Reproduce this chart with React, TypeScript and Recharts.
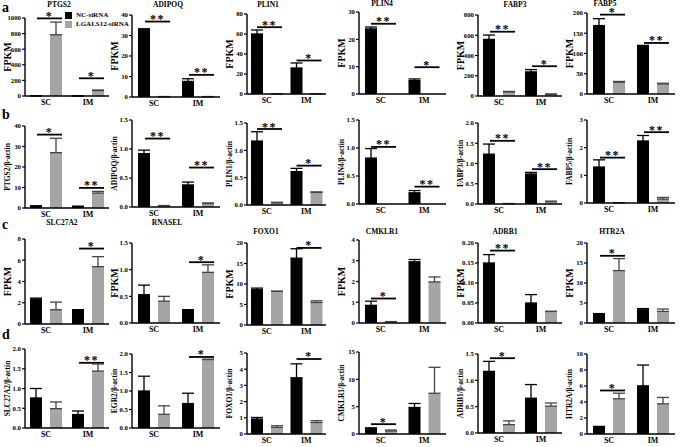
import React from 'react'
import { BarChart, Bar, XAxis, YAxis, ErrorBar, Legend } from 'recharts'

const FONT = '"Liberation Serif", "Times New Roman", serif'
const CATEGORIES = ['SC', 'IM']
const SERIES = ['NC-siRNA', 'LGALS12-siRNA']

// values are [SC, IM]
// row a - RNA-seq FPKM
const GENES_A = ['PTGS2', 'ADIPOQ', 'PLIN1', 'PLIN4', 'FABP3', 'FABP5']
const NC_A = [[2, 1], [32.8, 7.6], [60, 26], [23.8, 4.9], [559, 238], [169, 117]]
const NC_ERR_A = [[0, 0], [0.5, 1.3], [4, 5], [0.7, 0.6], [43, 23], [17, 3]]
const SI_A = [[785, 69], [0.2, 0.2], [0.3, 0.3], [0, 0], [40, 17], [29, 25]]
const SI_ERR_A = [[163, 8], [0, 0], [0, 0], [0, 0], [5, 3], [2, 1.5]]
const TICKS_A = [
  [0, 200, 400, 600, 800, 1000],
  [0, 10, 20, 30, 40],
  [0, 20, 40, 60, 80],
  [0, 10, 20, 30],
  [0, 200, 400, 600, 800],
  [0, 50, 100, 150, 200],
]
// significance bars: [SC level, IM level] and their marks
const SIG_A = [[995, 227], [36.8, 10.8], [66.8, 33.5], [25.7, 9.8], [635, 294], [196, 126]]
const SIG_TXT_A = [['*', '*'], ['**', '**'], ['**', '*'], ['**', '*'], ['**', '*'], ['*', '**']]

// row b - qPCR, relative to beta-actin
const LABELS_B = ['PTGS2', 'ADIPOQ', 'PLIN1', 'PLIN4', 'FABP3', 'FABP5']
const NC_B = [[1, 0.8], [0.92, 0.38], [1.17, 0.61], [0.82, 0.2], [1.23, 0.74], [1.3, 2.24]]
const NC_ERR_B = [[0, 0], [0.06, 0.05], [0.17, 0.06], [0.17, 0.04], [0.25, 0.04], [0.26, 0.2]]
const SI_B = [[27, 7.3], [0.02, 0.06], [0.04, 0.23], [0, 0], [0.01, 0.06], [0.01, 0.14]]
const SI_ERR_B = [[7, 0.8], [0.005, 0.01], [0.01, 0.01], [0, 0], [0, 0.01], [0, 0.06]]
const TICKS_B = [
  [0, 10, 20, 30, 40],
  [0, 0.5, 1, 1.5],
  [0, 0.5, 1, 1.5],
  [0, 0.5, 1, 1.5],
  [0, 0.5, 1, 1.5, 2],
  [0, 1, 2, 3],
]
const SIG_B = [[35.8, 9.8], [1.18, 0.68], [1.39, 0.72], [1.02, 0.31], [1.56, 0.86], [1.64, 2.56]]
const SIG_TXT_B = [['*', '**'], ['**', '**'], ['**', '*'], ['**', '**'], ['**', '**'], ['**', '**']]

// row c - RNA-seq FPKM
const GENES_C = ['SLC27A2', 'RNASEL', 'FOXO1', 'CMKLR1', 'ADRB1', 'HTR2A']
const NC_C = [[2.34, 1.34], [0.53, 0.25], [8.6, 16.3], [0.85, 2.95], [0.15, 0.05], [2.25, 3.3]]
const NC_ERR_C = [[0.1, 0], [0.18, 0], [0.4, 2.3], [0.2, 0.11], [0.021, 0.021], [0.1, 0.3]]
const SI_C = [[1.34, 5.4], [0.41, 0.95], [8.2, 5.5], [0.05, 1.98], [0, 0.029], [13.1, 2.9]]
const SI_ERR_C = [[0.72, 0.94], [0.09, 0.14], [0.05, 0.4], [0.02, 0.24], [0, 0], [3, 0.6]]
const TICKS_C = [
  [0, 2, 4, 6, 8],
  [0, 0.5, 1, 1.5],
  [0, 5, 10, 15, 20],
  [0, 1, 2, 3, 4],
  [0, 0.05, 0.1, 0.15, 0.2],
  [0, 5, 10, 15, 20],
]
const SIG_C = [[null, 7.1], [null, 1.14], [null, 18.8], [1.18, null], [0.181, null], [16.8, null]]
const SIG_TXT_C = [['', '*'], ['', '*'], ['', '*'], ['*', ''], ['**', ''], ['*', '']]

// row d - qPCR, relative to beta-actin
const LABELS_D = ['SLC27A2', 'EGR2', 'FOXO1', 'CMKLR1', 'ADRB1', 'HTR2A']
const NC_D = [[0.76, 0.34], [1.0, 0.66], [0.92, 3.47], [1.09, 4.85], [1.17, 0.66], [0.9, 6.02]]
const NC_ERR_D = [[0.24, 0.09], [0.4, 0.28], [0.1, 0.86], [0, 0.73], [0.19, 0.26], [0.05, 2.6]]
const SI_D = [[0.49, 1.44], [0.37, 1.85], [0.41, 0.71], [0.55, 7.45], [0.16, 0.51], [4.4, 3.77]]
const SI_ERR_D = [[0.17, 0.18], [0.23, 0.01], [0.1, 0.11], [0.18, 4.75], [0.07, 0.06], [0.7, 0.8]]
const TICKS_D = [
  [0, 0.5, 1, 1.5, 2],
  [0, 0.5, 1, 1.5, 2],
  [0, 1, 2, 3, 4, 5],
  [0, 5, 10, 15],
  [0, 0.5, 1, 1.5],
  [0, 2, 4, 6, 8, 10],
]
const SIG_D = [[null, 1.65], [null, 1.92], [null, 4.63], [1.8, null], [1.42, null], [5.44, null]]
const SIG_TXT_D = [['', '**'], ['', '*'], ['', '*'], ['*', ''], ['*', ''], ['*', '']]

// layout of the plot areas (page pixels)
const COL_LEFT = [25, 132, 247, 359, 478, 587]
const COL_RIGHT = [109, 220, 326, 446, 562, 675]
const ROW_TOP = [
  [18, 15, 14, 12, 15, 13],
  [126, 120, 123, 120, 123, 120],
  [239, 243, 243, 240, 243, 243],
  [349, 354, 353, 352, 354, 354],
]
const ROW_BOTTOM = [
  [96, 97, 94, 94, 96, 94],
  [208, 207, 205, 204, 204, 203],
  [324, 323, 325, 323, 323, 323],
  [428, 428, 434, 434, 433, 434],
]
// title centres (x, y)
const TITLE_X_A = [59, 168, 268, 382, 515, 605]
const TITLE_Y_A = [5, 5, 5, 4, 5, 4]
const TITLE_X_C = [62, 167, 266, 382, 505, 612]
const TITLE_Y_C = [223, 223, 232, 232, 232, 232]

type PanelSpec = {
  title?: string
  titleX?: number
  titleY?: number
  yLabel: string
  yLabelSize: number
  nc: number[]
  ncErr: number[]
  si: number[]
  siErr: number[]
  ticks: number[]
  sig: (number | null)[]
  sigTxt: string[]
  left: number
  right: number
  top: number
  bottom: number
  legend?: boolean
}

const Y_AXIS_W = 36
const M_TOP = 14
const X_AXIS_H = 13

function decimals(ticks: number[]) {
  let d = 0
  ticks.forEach((t) => {
    const s = String(t)
    if (s.includes('.')) d = Math.max(d, s.split('.')[1].length)
  })
  return d
}

// horizontal significance line with the star mark above it
function SigShape(props: any) {
  const { x, y, width, payload } = props
  if (payload == null || payload.sig == null || !isFinite(y)) return <g />
  const x1 = x + 3
  const x2 = x + width + 3
  return (
    <g>
      <line x1={x1} x2={x2} y1={y} y2={y} stroke="#000" strokeWidth={1.8} />
      <text
        x={(x1 + x2) / 2}
        y={y + 1.5}
        textAnchor="middle"
        fontSize={12}
        fontWeight={700}
        fontFamily={FONT}
        letterSpacing={1.5}
        fill="#000"
        stroke="none"
      >
        {payload.sigTxt}
      </text>
    </g>
  )
}

function Panel({ p }: { p: PanelSpec }) {
  const data = CATEGORIES.map((c, i) => ({
    cat: c,
    nc: p.nc[i],
    ncErr: [0, p.ncErr[i]],
    si: p.si[i],
    siErr: [0, p.siErr[i]],
    sig: p.sig[i],
    sigTxt: p.sigTxt[i],
  }))
  const plotW = p.right - p.left
  const plotH = p.bottom - p.top
  const w = Y_AXIS_W + plotW + 8
  const h = M_TOP + plotH + X_AXIS_H
  const dec = decimals(p.ticks)
  const max = p.ticks[p.ticks.length - 1]
  return (
    <>
      {p.title && (
        <div
          style={{
            position: 'absolute',
            left: (p.titleX ?? 0) - 40,
            width: 80,
            top: (p.titleY ?? 0) - 5,
            textAlign: 'center',
            fontFamily: FONT,
            fontWeight: 700,
            fontSize: 7.5,
            lineHeight: '10px',
            zIndex: 2,
          }}
        >
          {p.title}
        </div>
      )}
      <div style={{ position: 'absolute', left: p.left - Y_AXIS_W, top: p.top - M_TOP }}>
        <BarChart
          width={w}
          height={h}
          data={data}
          margin={{ top: M_TOP, right: 8, bottom: 0, left: 0 }}
          barGap={8}
          style={{ fontFamily: FONT }}
        >
          <XAxis
            dataKey="cat"
            height={X_AXIS_H}
            tickLine={false}
            tickSize={0}
            tickMargin={3}
            axisLine={{ stroke: '#000', strokeWidth: 1.4 }}
            tick={{ fill: '#000', fontSize: 8, fontWeight: 700, fontFamily: FONT }}
          />
          <XAxis xAxisId="sig" dataKey="cat" hide />
          <YAxis
            width={Y_AXIS_W}
            domain={[0, max]}
            ticks={p.ticks}
            interval={0}
            tickSize={3}
            tickMargin={1}
            tickLine={{ stroke: '#000', strokeWidth: 1.2 }}
            axisLine={{ stroke: '#000', strokeWidth: 1.4 }}
            tick={{ fill: '#000', fontSize: 6.8, fontWeight: 700, fontFamily: FONT }}
            tickFormatter={(v: number) => v.toFixed(dec)}
            label={{
              value: p.yLabel,
              angle: -90,
              position: 'center',
              fill: '#000',
              fontSize: p.yLabelSize,
              fontWeight: 700,
              fontFamily: FONT,
            }}
          />
          {p.legend && (
            <Legend
              layout="vertical"
              align="center"
              verticalAlign="middle"
              iconType="square"
              iconSize={7}
              itemSorter="dataKey"
              wrapperStyle={{
                top: 7,
                left: 76,
                width: 90,
                height: 'auto',
                fontSize: 7,
                fontWeight: 700,
                fontFamily: FONT,
                lineHeight: '9px',
                whiteSpace: 'nowrap',
                textAlign: 'left',
              }}
              formatter={(value: string) => <span style={{ color: '#000' }}>{value}</span>}
            />
          )}
          <Bar dataKey="nc" name={SERIES[0]} fill="#000" barSize={12} isAnimationActive={false}>
            <ErrorBar dataKey="ncErr" width={6} stroke="#000" strokeWidth={1.3} direction="y" />
          </Bar>
          <Bar dataKey="si" name={SERIES[1]} fill="#a5a5a5" barSize={12} isAnimationActive={false}>
            <ErrorBar dataKey="siErr" width={6} stroke="#444" strokeWidth={1.3} direction="y" />
          </Bar>
          <Bar
            dataKey="sig"
            xAxisId="sig"
            barSize={25}
            legendType="none"
            shape={SigShape}
            isAnimationActive={false}
          />
        </BarChart>
      </div>
    </>
  )
}

function buildRow(
  r: number,
  nc: number[][],
  ncErr: number[][],
  si: number[][],
  siErr: number[][],
  ticks: number[][],
  sig: (number | null)[][],
  sigTxt: string[][],
  yLabels: string[],
  yLabelSize: number,
  titles?: string[],
  titleXs?: number[],
  titleYs?: number[]
): PanelSpec[] {
  return nc.map((_, i) => ({
    title: titles ? titles[i] : undefined,
    titleX: titleXs ? titleXs[i] : undefined,
    titleY: titleYs ? titleYs[i] : undefined,
    yLabel: yLabels[i],
    yLabelSize,
    nc: nc[i],
    ncErr: ncErr[i],
    si: si[i],
    siErr: siErr[i],
    ticks: ticks[i],
    sig: sig[i],
    sigTxt: sigTxt[i],
    left: COL_LEFT[i],
    right: COL_RIGHT[i],
    top: ROW_TOP[r][i],
    bottom: ROW_BOTTOM[r][i],
    legend: r === 0 && i === 0,
  }))
}

const FPKM = GENES_A.map(() => 'FPKM')

const PANELS: PanelSpec[] = [
  ...buildRow(0, NC_A, NC_ERR_A, SI_A, SI_ERR_A, TICKS_A, SIG_A, SIG_TXT_A, FPKM, 10, GENES_A, TITLE_X_A, TITLE_Y_A),
  ...buildRow(1, NC_B, NC_ERR_B, SI_B, SI_ERR_B, TICKS_B, SIG_B, SIG_TXT_B, LABELS_B.map((g) => `${g}/β-actin`), 7.5),
  ...buildRow(2, NC_C, NC_ERR_C, SI_C, SI_ERR_C, TICKS_C, SIG_C, SIG_TXT_C, FPKM, 10, GENES_C, TITLE_X_C, TITLE_Y_C),
  ...buildRow(3, NC_D, NC_ERR_D, SI_D, SI_ERR_D, TICKS_D, SIG_D, SIG_TXT_D, LABELS_D.map((g) => `${g}/β-actin`), 7.5),
]

const LETTERS = [
  { t: 'a', y: 0 },
  { t: 'b', y: 107 },
  { t: 'c', y: 217 },
  { t: 'd', y: 327 },
]

export default function App() {
  return (
    <div
      style={{
        position: 'absolute',
        left: 0,
        top: 0,
        width: 685,
        height: 447,
        background: '#fff',
        overflow: 'hidden',
        fontFamily: FONT,
      }}
    >
      {LETTERS.map((l) => (
        <div
          key={l.t}
          style={{
            position: 'absolute',
            left: 2,
            top: l.y,
            fontSize: 14,
            fontWeight: 700,
            lineHeight: '15px',
          }}
        >
          {l.t}
        </div>
      ))}
      {PANELS.map((p, i) => (
        <Panel key={i} p={p} />
      ))}
    </div>
  )
}
